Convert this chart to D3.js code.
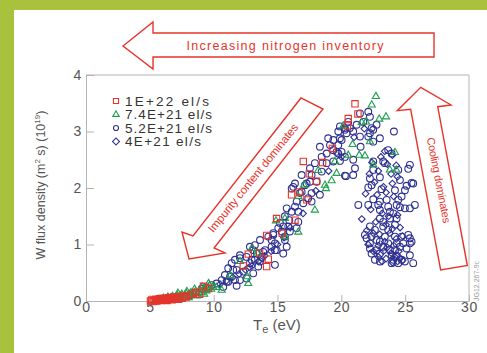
<!DOCTYPE html>
<html>
<head>
<meta charset="utf-8">
<script src="https://cdn.jsdelivr.net/npm/d3@7"></script>
<style>
  body { margin: 0; background: #fff; }
  svg { display: block; font-family: "Liberation Sans", Arial, sans-serif; }
</style>
</head>
<body>
<svg id="chart" width="487" height="353"></svg>
<script>
// tick values
const xTicks = [0, 5, 10, 15, 20, 25, 30];
const yTicks = [0, 1, 2, 3, 4];

// legend labels
const seriesNames = ["1E+22 el/s", "7.4E+21 el/s", "5.2E+21 el/s", "4E+21 el/s"];

// [Te (eV), W flux (1e19)]
const red1E22 = [
  [21.07,3.49],[21.30,3.31],[20.54,3.23],[20.47,3.10],[19.30,2.70],[17.02,2.47],[18.53,2.45],
  [17.49,2.25],[18.06,2.12],[16.70,1.93],[16.10,1.88],[17.30,1.79],[14.93,1.46],[16.37,1.43],
  [14.15,1.16],[15.37,1.20],[12.71,0.83],[14.28,0.74],[12.32,0.62],[14.15,0.61],[13.60,0.85],
  [9.20,0.26],[9.60,0.22],[8.60,0.15],[8.90,0.12],
  [5.05,0.00],[5.15,0.02],[5.25,-0.01],[5.35,0.01],[5.45,0.03],[5.55,0.00],[5.65,0.02],
  [5.75,0.04],[5.85,0.01],[5.95,0.03],[6.05,0.05],[6.15,0.02],[6.25,0.04],[6.35,0.01],
  [6.45,0.06],[6.55,0.03],[6.65,0.05],[6.75,0.02],[6.85,0.07],[6.95,0.04],[7.10,0.06],
  [7.25,0.03],[7.40,0.08],[7.55,0.05],[7.70,0.09],[7.85,0.07],[8.05,0.10],[8.30,0.12]
];

const green7p4E21 = [
  [22.71,3.62],[22.38,3.47],[23.50,3.26],[22.97,3.22],[21.60,3.16],[21.93,3.17],[20.15,3.10],
  [22.24,2.82],[20.88,2.77],[20.54,2.58],[21.40,2.58],[21.85,2.57],[24.20,2.63],[19.50,2.47],
  [22.50,2.41],[23.80,2.32],[24.30,2.32],[19.24,2.13],[19.63,2.26],[18.72,2.05],[18.80,1.99],
  [18.19,2.31],[17.93,1.61],[16.63,1.85],[17.07,2.05],[16.63,1.22],[14.88,1.42],[15.58,1.14],
  [15.58,1.46],[12.98,0.93],[12.71,0.31],[12.06,0.70],[13.41,0.85],[10.63,0.19],[12.63,0.43],
  [11.30,0.45],
  [5.55,0.01],[5.70,0.03],[5.82,0.00],[5.95,0.02],[6.05,0.05],[6.18,0.02],[6.30,0.04],
  [6.42,0.07],[6.55,0.03],[6.66,0.06],[6.78,0.08],[6.90,0.04],[7.02,0.07],[7.15,0.10],
  [7.27,0.05],[7.38,0.09],[7.50,0.12],[7.62,0.07],[7.74,0.10],[7.86,0.13],[7.98,0.09],
  [8.10,0.12],[8.22,0.15],[8.34,0.11],[8.46,0.14],[8.58,0.17],[8.70,0.13],[8.82,0.16],
  [8.94,0.20],[9.06,0.15],[9.18,0.19],[9.30,0.23],[9.42,0.18],[9.55,0.22],[9.68,0.27],
  [9.80,0.21],[9.95,0.25],[10.20,0.24],[8.05,0.06],[7.45,0.03],[6.85,0.01],[8.65,0.09],
  [9.25,0.12],[7.20,0.14],[7.90,0.17],[8.50,0.21],[9.10,0.25],[9.60,0.31]
];

const navy5p2E21 = [
  [9.06,0.22],[9.45,0.24],[9.84,0.28],[10.23,0.31],[10.63,0.37],[10.75,0.25],[11.02,0.34],
  [11.14,0.34],[10.88,0.46],[11.28,0.43],[11.67,0.37],[11.80,0.27],[11.53,0.55],[11.14,0.58],
  [11.41,0.67],[11.80,0.55],[12.32,0.52],[12.06,0.37],[12.58,0.40],[13.10,0.49],[13.49,0.61],
  [11.67,0.73],[12.06,0.76],[12.06,0.81],[12.58,0.78],[12.84,0.67],[13.23,0.73],[12.97,0.73],
  [13.63,0.70],[13.76,0.78],[13.10,0.90],[14.02,0.90],[13.37,0.84],[13.88,0.87],[12.84,0.96],
  [13.23,0.99],[13.63,1.08],[14.54,0.96],[14.80,0.90],[14.80,0.64],[15.45,0.84],[15.72,0.96],
  [14.93,0.90],[14.80,1.02],[14.28,1.14],[14.54,1.08],[15.58,1.08],[15.58,1.14],[14.67,1.17],
  [14.67,1.20],[15.33,1.23],[15.97,1.23],[15.06,1.29],[16.50,1.29],[15.84,1.32],[15.45,1.32],
  [15.19,1.38],[16.63,1.40],[15.92,1.43],[15.58,1.50],[16.11,1.58],[16.63,1.58],[15.72,1.64],
  [16.37,1.67],[16.50,1.76],[17.02,1.73],[17.67,1.76],[17.41,1.82],[16.89,1.93],[16.76,1.91],
  [17.67,1.91],[18.32,1.88],[16.11,1.99],[16.23,2.02],[16.37,2.08],[17.15,2.05],[17.28,2.08],
  [17.54,2.11],[18.07,2.11],[16.89,2.23],[17.67,2.23],[18.46,2.29],[17.54,2.35],[17.93,2.44],
  [18.85,2.44],[19.37,2.47],[19.89,2.48],[18.46,2.55],[18.85,2.61],[19.76,2.61],[20.02,2.64],
  [19.37,2.67],[19.11,2.76],[18.32,2.73],[18.97,2.88],[19.89,2.88],[20.41,2.97],[19.89,3.09],
  [20.28,3.06],[20.54,3.17],[20.28,2.22],[20.36,2.21],
  [21.46,3.32],[22.11,3.35],[22.24,3.26],[21.72,3.17],[21.20,3.12],[20.67,3.06],[20.28,3.03],
  [20.93,3.00],[19.76,3.00],[19.37,2.85],[20.02,2.85],[21.46,2.91],[22.24,2.97],[22.50,3.03],
  [22.76,3.12],[19.76,2.76],[19.63,2.64],[20.28,2.55],[22.37,3.06],[22.11,2.91],[22.50,2.82],
  [23.02,2.88],[21.51,2.73],[20.93,2.50],[21.07,2.35],
  [24.12,3.00],[23.67,2.67],[23.94,2.61],[23.28,2.47],[22.50,2.47],[23.41,2.44],[25.37,2.41],
  [25.24,2.34],[22.50,2.32],[20.93,2.23],[23.02,2.19],[24.46,2.32],[22.24,2.17],[24.59,2.14],
  [25.50,2.09],[25.11,2.04],[22.37,2.05],[22.11,2.01],[23.15,1.98],[24.20,1.96],[24.98,1.96],
  [22.50,1.80],[23.02,1.76],[23.55,1.79],[24.46,1.79],[24.72,1.85],[21.33,1.70],[22.11,1.70],
  [22.89,1.70],[23.67,1.67],[24.33,1.70],[24.59,1.66],[24.98,1.64],[25.37,1.64],[25.76,1.70],
  [23.02,1.61],[23.81,1.58],[24.07,1.55],[23.02,1.46],[23.28,1.40],[23.81,1.46],[24.33,1.46],
  [22.24,1.32],[22.63,1.26],[23.28,1.32],[23.67,1.26],[24.20,1.35],[21.85,1.17],[21.98,1.11],
  [22.37,1.14],[22.76,1.08],[23.41,1.14],[24.20,1.14],[24.72,1.14],[25.24,1.17],[25.37,1.11],
  [22.24,1.02],[23.02,1.05],[23.67,1.02],[24.33,1.02],[24.85,1.02],[25.37,1.02],[22.24,0.93],
  [22.76,0.90],[23.28,0.96],[23.81,0.90],[24.20,0.90],[24.59,0.96],[25.11,0.93],[22.37,0.84],
  [23.02,0.84],[23.94,0.81],[24.33,0.80],[24.72,0.73],[22.63,0.73],[23.02,0.70],[24.07,0.73],
  [23.94,0.67],[24.46,0.67],[24.98,0.70],[25.63,0.67],[25.37,0.81],[25.63,2.08],[25.50,1.05]
];

const navy4E21 = [
  [23.10,2.55],[23.60,2.42],[22.90,2.30],[23.90,2.25],[22.60,2.10],[23.30,2.02],[24.00,2.08],
  [24.40,2.20],[22.80,1.88],[23.50,1.92],[24.10,1.85],[22.30,1.62],[23.20,1.55],[23.70,1.50],
  [24.40,1.52],[22.70,1.40],[23.50,1.35],[24.00,1.28],[24.60,1.30],[22.00,1.25],[22.50,1.20],
  [23.00,1.18],[23.40,1.05],[23.80,1.20],[24.30,1.10],[24.80,1.15],[22.10,1.00],[22.90,0.98],
  [23.60,0.95],[24.10,0.98],[24.50,0.88],[22.50,0.88],[23.30,0.88],[23.90,0.85],[24.20,0.78],
  [24.60,0.76],[22.90,0.78],[23.50,0.75],[24.00,0.68],[24.40,0.70],[23.20,0.70],[24.80,0.72],
  [22.40,2.45],[24.00,2.58],[23.40,2.65],[24.30,2.40],[22.20,2.25],[21.90,1.90],[21.60,1.45],
  [12.50,0.55],[13.00,0.62],[13.50,0.70],[12.00,0.48],[11.50,0.42],[14.00,0.80],[14.50,0.88],
  [15.00,1.00],[15.50,1.12],[13.80,0.75],[12.80,0.60],[16.00,1.30],[17.00,1.55],[18.00,1.95],
  [19.00,2.30],[20.00,2.55],[21.00,2.90],[21.80,3.05],[10.50,0.30],[11.00,0.36]
];

// annotation arrows, outlined in data units
const nitrogenArrow = [[2.90,4.513],[5.25,4.938],[5.25,4.743],[27.26,4.743],[27.26,4.319],[5.25,4.319],[5.25,4.106]];
const impurityArrow = [[16.84,3.593],[18.56,3.398],[10.03,0.938],[10.89,0.850],[8.07,0.743],[7.52,1.221],[8.38,1.150]];
const coolingArrow = [[26.22,3.782],[28.59,3.469],[27.55,3.439],[29.87,0.628],[27.78,0.549],[25.43,3.393],[24.38,3.368]];

const RED = "#e8332b", GREEN = "#1f9f4f", NAVY = "#2e3192", AXIS = "#b4b4b4", TXT = "#555";

const svg = d3.select("#chart");

// green page border
svg.append("rect").attr("width", 487).attr("height", 353).attr("fill", "#a9c23d");
svg.append("rect").attr("x", 14).attr("y", 10).attr("width", 473).attr("height", 343).attr("fill", "#fff");

const x = d3.scaleLinear().domain([0, 30]).range([86, 469]);
const y = d3.scaleLinear().domain([0, 4]).range([301, 75]);

// axes
const xAxis = svg.append("g")
  .attr("transform", `translate(0,${y(0)})`)
  .call(d3.axisBottom(x).tickValues(xTicks).tickFormat(d3.format("d"))
    .tickSizeInner(-6).tickSizeOuter(0).tickPadding(1));
const yAxis = svg.append("g")
  .attr("transform", `translate(${x(0)},0)`)
  .call(d3.axisLeft(y).tickValues(yTicks).tickFormat(d3.format("d"))
    .tickSizeInner(-8).tickSizeOuter(0).tickPadding(4));

[xAxis, yAxis].forEach(a => {
  a.select(".domain").attr("stroke", AXIS);
  a.selectAll(".tick line").attr("stroke", AXIS);
  a.selectAll(".tick text").attr("fill", TXT).attr("font-size", 14).style("letter-spacing", "0.6px");
});
yAxis.selectAll(".tick text").attr("dy", "0.3em");

// top and right frame lines
svg.append("path")
  .attr("d", `M${x(0)},${y(4)}H${x(30)}V${y(0)}`)
  .attr("fill", "none").attr("stroke", AXIS);

// axis titles
const xt = svg.append("text").attr("x", 253).attr("y", 330).attr("fill", TXT).attr("font-size", 15);
xt.append("tspan").text("T");
xt.append("tspan").attr("font-size", 11).attr("dy", 3).text("e");
xt.append("tspan").attr("dy", -3).text(" (eV)");

const yt = svg.append("text")
  .attr("transform", "translate(45,185) rotate(-90)")
  .attr("text-anchor", "middle").attr("fill", TXT).attr("font-size", 12.5);
yt.append("tspan").text("W flux density (m");
yt.append("tspan").attr("font-size", 8).attr("dy", -5).text("2");
yt.append("tspan").attr("dy", 5).text(" s) (10");
yt.append("tspan").attr("font-size", 8).attr("dy", -5).text("19");
yt.append("tspan").attr("dy", 5).text(")");

// annotation arrows
const line = d3.line().x(d => x(d[0])).y(d => y(d[1])).curve(d3.curveLinearClosed);
[nitrogenArrow, impurityArrow, coolingArrow].forEach(a => {
  svg.append("path").attr("d", line(a))
    .attr("fill", "none").attr("stroke", RED).attr("stroke-width", 1.4).attr("stroke-linejoin", "miter");
});

svg.append("text").attr("x", x(15.58)).attr("y", y(4.513)).attr("dy", "0.35em")
  .attr("text-anchor", "middle").attr("fill", RED).attr("font-size", 12.5)
  .attr("textLength", 197).attr("lengthAdjust", "spacing")
  .text("Increasing nitrogen inventory");

svg.append("text")
  .attr("transform", `translate(${x(13.08)},${y(2.18)}) rotate(-51)`)
  .attr("dy", "0.35em").attr("text-anchor", "middle").attr("fill", RED).attr("font-size", 11.5)
  .attr("textLength", 136).attr("lengthAdjust", "spacing")
  .text("Impurity content dominates");

svg.append("text")
  .attr("transform", `translate(${x(27.64)},${y(2.14)}) rotate(79)`)
  .attr("dy", "0.35em").attr("text-anchor", "middle").attr("fill", RED).attr("font-size", 11)
  .attr("textLength", 87).attr("lengthAdjust", "spacing")
  .text("Cooling dominates");

// watermark
svg.append("text")
  .attr("transform", "translate(479,281) rotate(-90)")
  .attr("text-anchor", "middle").attr("fill", "#999").attr("font-size", 7)
  .text("JG12.267-9c");

// scatter
function drawSeries(data, type, size, color, rot) {
  svg.append("g").selectAll("path").data(data).join("path")
    .attr("d", d3.symbol(type, size))
    .attr("transform", d => `translate(${x(d[0])},${y(d[1])})` + (rot ? ` rotate(${rot})` : ""))
    .attr("fill", "none").attr("stroke", color).attr("stroke-width", 1.1);
}
drawSeries(navy4E21, d3.symbolSquare, 22, NAVY, 45);
drawSeries(navy5p2E21, d3.symbolCircle, 36, NAVY);
drawSeries(green7p4E21, d3.symbolTriangle, 22, GREEN);
drawSeries(red1E22, d3.symbolSquare, 40, RED);

// legend
const legendTypes = [
  { type: d3.symbolSquare, size: 26, color: RED, rot: 0 },
  { type: d3.symbolTriangle, size: 18, color: GREEN, rot: 0 },
  { type: d3.symbolCircle, size: 20, color: NAVY, rot: 0 },
  { type: d3.symbolSquare, size: 24, color: NAVY, rot: 45 }
];
const legendWidths = [84, 87, 87, 76];
const legend = svg.append("g").selectAll("g").data(seriesNames).join("g")
  .attr("transform", (d, i) => `translate(116,${101 + i * 13.5})`);
legend.append("path")
  .attr("d", (d, i) => d3.symbol(legendTypes[i].type, legendTypes[i].size)())
  .attr("transform", (d, i) => `rotate(${legendTypes[i].rot})`)
  .attr("fill", "none").attr("stroke", (d, i) => legendTypes[i].color).attr("stroke-width", 1.1);
legend.append("text")
  .attr("x", 9).attr("dy", "0.36em").attr("fill", "#333").attr("font-size", 13.5)
  .attr("textLength", (d, i) => legendWidths[i]).attr("lengthAdjust", "spacing")
  .text(d => d);
</script>
</body>
</html>
